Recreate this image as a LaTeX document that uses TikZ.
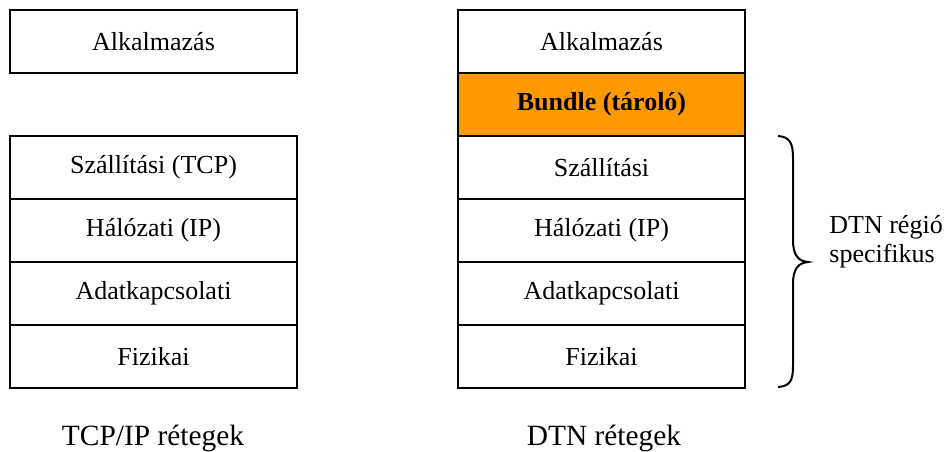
\documentclass[tikz,border=0pt]{standalone}
\usepackage{fontspec}
\setmainfont{Liberation Serif}
\usetikzlibrary{positioning}
\definecolor{bundleorange}{HTML}{FF9900}

\begin{document}
\begin{tikzpicture}[
    x=0.5pt, y=-0.5pt,
    font=\fontsize{13}{15}\selectfont,
    layer/.style={draw, line width=1pt, outer sep=0pt, minimum width=143.5pt, minimum height=31.5pt, inner sep=0pt, anchor=north west},
    bundle/.style={layer, fill=bundleorange, font=\fontsize{13}{15}\selectfont\bfseries},
    caption/.style={inner sep=0pt, anchor=base, font=\fontsize{14.7}{17}\selectfont}
  ]
    \useasboundingbox (0,0) rectangle (948,451);

    % TCP/IP stack
    \node[layer] (tapp) at (10,10) {Alkalmazás};
    \node[layer] (ttr)  at (10,136) {Szállítási (TCP)};
    \node[layer, below=0pt of ttr] (tnet) {Hálózati (IP)};
    \node[layer, below=0pt of tnet] (tlink) {Adatkapcsolati};
    \node[layer, below=0pt of tlink] (tphy) {Fizikai};

    % DTN stack
    \node[layer] (dapp) at (458,10) {Alkalmazás};
    \node[bundle, below=0pt of dapp] (dbun) {Bundle (tároló)};
    \node[layer, below=0pt of dbun] (dtr) {Szállítási};
    \node[layer, below=0pt of dtr] (dnet) {Hálózati (IP)};
    \node[layer, below=0pt of dnet] (dlink) {Adatkapcsolati};
    \node[layer, below=0pt of dlink] (dphy) {Fizikai};

    % brace
    \draw[line width=1pt]
      (778,136) .. controls (790,137) and (793,143) .. (793,158)
      -- (793,240) .. controls (793,255) and (798,261) .. (808,262)
      .. controls (798,263) and (793,269) .. (793,284)
      -- (793,366) .. controls (793,381) and (790,386) .. (778,387);
    \node[anchor=base west, align=left, inner sep=0pt, font=\fontsize{13}{14.5}\selectfont] (region) at (829,262)
      {DTN régió\\specifikus};

    \node[caption] (tcap) at (153,445) {TCP/IP rétegek};
    \node[caption] (dcap) at (604,445) {DTN rétegek};
  \end{tikzpicture}
\end{document}
